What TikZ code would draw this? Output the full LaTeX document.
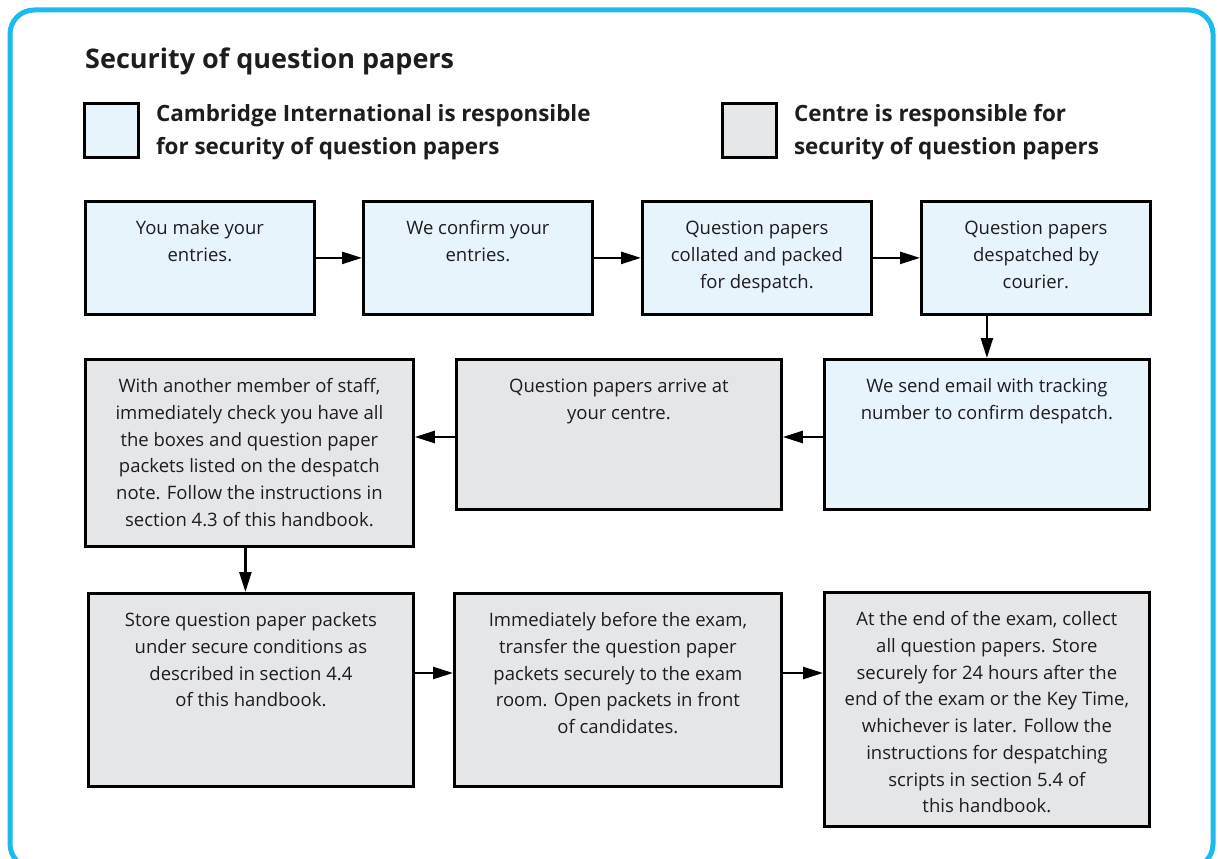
\documentclass[tikz,border=0pt]{standalone}
\usepackage{fontspec}
\setmainfont{Open Sans}
\usetikzlibrary{arrows.meta,calc,positioning}
\definecolor{FrameClr}{rgb}{0.11,0.73,0.93}
\definecolor{CamClr}{rgb}{0.91,0.957,0.988}
\definecolor{CentreClr}{rgb}{0.898,0.902,0.91}
\definecolor{InkClr}{rgb}{0.12,0.11,0.12}

\begin{document}
\begin{tikzpicture}[x=1pt,y=-1pt,
  stepbox/.style={draw=black,line width=2.8pt,anchor=north west,inner sep=0pt},
  cam/.style={stepbox,fill=CamClr},
  centre/.style={stepbox,fill=CentreClr},
  steptext/.style={anchor=north,align=center,inner sep=0pt,text=InkClr,
    font=\fontsize{18.5}{26.7}\selectfont},
  keytext/.style={anchor=north west,align=left,inner sep=0pt,text=InkClr,
    font=\bfseries\fontsize{22.4}{33}\selectfont},
  flow/.style={line width=2.4pt,-{Triangle[length=20pt,width=12pt]}}]

\useasboundingbox (0,0) rectangle (1218,859);
\clip (0,0) rectangle (1218,859);
\draw[FrameClr,line width=5pt,rounded corners=24pt] (10,10) rectangle (1213,868);

\node[anchor=base west,inner sep=0pt,text=InkClr,font=\bfseries\fontsize{27}{32}\selectfont]
  (title) at (85,69) {Security of question papers};

\node[cam,minimum width=54pt,minimum height=54pt] (keyCam) at (83,102) {};
\node[keytext] (keyCamT) at ($(keyCam.north east)+(16,-4)$)
  {\strut Cambridge International is responsible\\for security of question papers};
\node[centre,minimum width=54pt,minimum height=54pt] (keyCentre) at (721,102) {};
\node[keytext] (keyCentreT) at ($(keyCentre.north east)+(16,-4)$)
  {\strut Centre is responsible for\\security of question papers};

\node[cam,minimum width=229pt,minimum height=113pt] (entries) at (84,200) {};
\node[cam,minimum width=229pt,minimum height=113pt] (confirm) at (362,200) {};
\node[cam,minimum width=229pt,minimum height=113pt] (packed) at (641,200) {};
\node[cam,minimum width=229pt,minimum height=113pt] (courier) at (920,200) {};

\node[cam,minimum width=325pt,minimum height=150pt] (email) at (823,358) {};
\node[centre,minimum width=325pt,minimum height=150pt] (arrive) at (455,358) {};
\node[centre,minimum width=328pt,minimum height=187pt] (check) at (84,358) {};

\node[centre,minimum width=325pt,minimum height=193pt] (store) at (87,592) {};
\node[centre,minimum width=327pt,minimum height=193pt] (transfer) at (453,592) {};
\node[centre,minimum width=325pt,minimum height=234pt] (collect) at (823,591) {};

\node[steptext] (entriesT) at ($(entries.north)+(0,16)$) {\strut You make your\\entries.};
\node[steptext] (confirmT) at ($(confirm.north)+(0,16)$) {\strut We confirm your\\entries.};
\node[steptext] (packedT) at ($(packed.north)+(0,16)$)
  {\strut Question papers\\collated and packed\\for despatch.};
\node[steptext] (courierT) at ($(courier.north)+(0,16)$)
  {\strut Question papers\\despatched by\\courier.};
\node[steptext] (emailT) at ($(email.north)+(0,16)$)
  {\strut We send email with tracking\\number to confirm despatch.};
\node[steptext] (arriveT) at ($(arrive.north)+(0,16)$)
  {\strut Question papers arrive at\\your centre.};
\node[steptext] (checkT) at ($(check.north)+(0,16)$)
  {\strut With another member of staff,\\immediately check you have all\\the boxes and question paper\\packets listed on the despatch\\note. Follow the instructions in\\section 4.3 of this handbook.};
\node[steptext] (storeT) at ($(store.north)+(0,16)$)
  {\strut Store question paper packets\\under secure conditions as\\described in section 4.4\\of this handbook.};
\node[steptext] (transferT) at ($(transfer.north)+(0,16)$)
  {\strut Immediately before the exam,\\transfer the question paper\\packets securely to the exam\\room. Open packets in front\\of candidates.};
\node[steptext] (collectT) at ($(collect.north)+(0,16)$)
  {\strut At the end of the exam, collect\\all question papers. Store\\securely for 24 hours after the\\end of the exam or the Key Time,\\whichever is later. Follow the\\instructions for despatching\\scripts in section 5.4 of\\this handbook.};

\coordinate (emailOut) at ($(email.north west)+(0,79)$);
\coordinate (arriveOut) at ($(arrive.north west)+(0,79)$);
\coordinate (checkOut) at ($(check.south)+(-4,0)$);
\coordinate (storeOut) at ($(store.north east)+(0,81)$);
\coordinate (transferOut) at ($(transfer.north east)+(0,81)$);

\draw[flow] (entries.east) -- (confirm.west);
\draw[flow] (confirm.east) -- (packed.west);
\draw[flow] (packed.east) -- (courier.west);
\draw[flow] (courier.south -| email.north) -- (email.north);
\draw[flow] (emailOut) -- (emailOut -| arrive.east);
\draw[flow] (arriveOut) -- (arriveOut -| check.east);
\draw[flow] (checkOut) -- (checkOut |- store.north);
\draw[flow] (storeOut) -- (storeOut -| transfer.west);
\draw[flow] (transferOut) -- (transferOut -| collect.west);

\end{tikzpicture}
\end{document}
